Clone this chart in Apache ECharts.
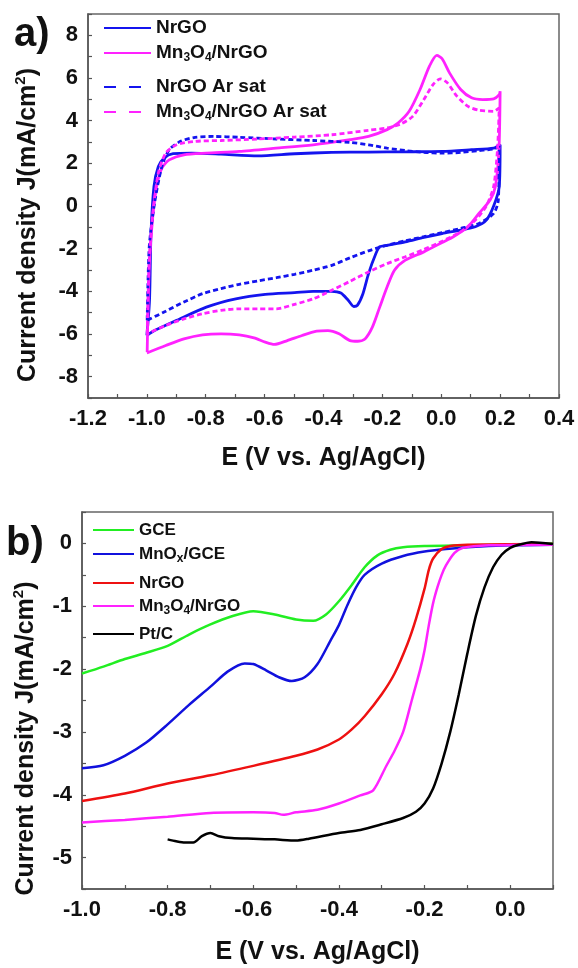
<!DOCTYPE html>
<html>
<head>
<meta charset="utf-8">
<script src="https://cdn.jsdelivr.net/npm/echarts@6/dist/echarts.min.js"></script>
<style>
  html, body { margin: 0; padding: 0; background: #fff; }
  #chart { width: 578px; height: 968px; }
</style>
</head>
<body>
<div id="chart"></div>
<script>
const FONT = 'Liberation Sans, Arial, sans-serif'

// panel a) cyclic voltammograms, [E (V), J (mA/cm2)], loop order as recorded
const cvNrgo = [
  [-1.0, -6.07], [-0.991, -4.42], [-0.986, -1.29], [-0.976, 0.91], [-0.961, 1.85], [-0.942, 2.24],
  [-0.911, 2.45], [-0.848, 2.48], [-0.748, 2.43], [-0.623, 2.35], [-0.498, 2.45], [-0.372, 2.51],
  [-0.247, 2.53], [-0.122, 2.54], [0.003, 2.56], [0.103, 2.64], [0.178, 2.71], [0.2, 2.87],
  [0.197, 0.91], [0.178, 0], [0.153, -0.66], [0.116, -0.97], [0.066, -1.13], [0.003, -1.29],
  [-0.059, -1.47], [-0.122, -1.68], [-0.184, -1.84], [-0.209, -1.91], [-0.222, -2.23], [-0.247, -3.17],
  [-0.266, -4.11], [-0.285, -4.66], [-0.297, -4.71], [-0.316, -4.42], [-0.341, -4.08], [-0.372, -4.0],
  [-0.435, -4.0], [-0.498, -4.06], [-0.598, -4.14], [-0.698, -4.35], [-0.798, -4.74], [-0.899, -5.36],
  [-0.974, -5.84], [-1.0, -6.07]
]
const cvNrgoAr = [
  [-0.999, -5.36], [-0.992, -1.91], [-0.974, 0.13], [-0.949, 1.85], [-0.924, 2.64], [-0.886, 3.03],
  [-0.836, 3.22], [-0.773, 3.26], [-0.686, 3.22], [-0.56, 3.14], [-0.435, 3.07], [-0.31, 2.98],
  [-0.247, 2.87], [-0.184, 2.71], [-0.122, 2.6], [-0.059, 2.51], [0.003, 2.48], [0.066, 2.51],
  [0.128, 2.6], [0.178, 2.67], [0.197, 2.79], [0.194, 0.28], [0.178, -0.35], [0.128, -0.82],
  [0.066, -1.05], [0.003, -1.25], [-0.059, -1.44], [-0.122, -1.63], [-0.184, -1.84], [-0.247, -2.1],
  [-0.31, -2.43], [-0.372, -2.78], [-0.435, -3.01], [-0.498, -3.2], [-0.56, -3.36], [-0.623, -3.51],
  [-0.686, -3.67], [-0.748, -3.87], [-0.811, -4.11], [-0.874, -4.5], [-0.936, -4.93], [-0.999, -5.36]
]
const cvMnNrgo = [
  [-0.999, -6.85], [-0.992, -2.85], [-0.98, -0.5], [-0.967, 0.91], [-0.949, 1.77], [-0.924, 2.16],
  [-0.874, 2.4], [-0.799, 2.48], [-0.686, 2.56], [-0.561, 2.71], [-0.435, 2.87], [-0.31, 3.11],
  [-0.247, 3.26], [-0.184, 3.58], [-0.147, 3.89], [-0.109, 4.44], [-0.072, 5.46], [-0.04, 6.56],
  [-0.015, 7.06], [0.003, 6.9], [0.028, 6.24], [0.066, 5.46], [0.103, 5.07], [0.141, 4.99],
  [0.178, 5.02], [0.197, 5.22], [0.2, 5.38], [0.196, 2.64], [0.184, 0.91], [0.166, 0.28],
  [0.128, -0.35], [0.091, -0.97], [0.041, -1.44], [0.003, -1.71], [-0.059, -2.15], [-0.122, -2.54],
  [-0.159, -3.01], [-0.184, -3.8], [-0.209, -4.74], [-0.234, -5.68], [-0.259, -6.23], [-0.284, -6.34],
  [-0.31, -6.31], [-0.347, -5.99], [-0.385, -5.84], [-0.423, -5.87], [-0.473, -6.07], [-0.523, -6.31],
  [-0.567, -6.49], [-0.598, -6.38], [-0.636, -6.18], [-0.686, -6.04], [-0.748, -5.99], [-0.811, -6.04],
  [-0.874, -6.23], [-0.936, -6.54], [-1.0, -6.89]
]
const cvMnNrgoAr = [
  [-0.999, -5.99], [-0.992, -2.54], [-0.98, -0.35], [-0.961, 1.54], [-0.936, 2.48], [-0.899, 2.87],
  [-0.836, 3.03], [-0.748, 3.07], [-0.623, 3.14], [-0.498, 3.23], [-0.372, 3.34], [-0.247, 3.55],
  [-0.184, 3.66], [-0.135, 3.86], [-0.097, 4.2], [-0.059, 4.99], [-0.028, 5.69], [-0.003, 5.96],
  [0.021, 5.77], [0.053, 5.15], [0.091, 4.67], [0.128, 4.49], [0.178, 4.44], [0.197, 4.6],
  [0.191, 2.64], [0.178, 0.91], [0.153, 0], [0.116, -0.66], [0.066, -1.21], [0.003, -1.65],
  [-0.059, -2.04], [-0.122, -2.38], [-0.184, -2.7], [-0.247, -3.09], [-0.31, -3.53], [-0.372, -3.95],
  [-0.435, -4.35], [-0.498, -4.61], [-0.56, -4.82], [-0.623, -4.82], [-0.686, -4.82], [-0.748, -4.89],
  [-0.811, -5.05], [-0.874, -5.29], [-0.936, -5.6], [-0.999, -5.99]
]

// panel b) polarisation curves
const lsvGce = [
  [-1.0, -2.07], [-0.95, -1.96], [-0.9, -1.84], [-0.85, -1.74], [-0.8, -1.63], [-0.75, -1.45],
  [-0.7, -1.29], [-0.65, -1.16], [-0.6, -1.08], [-0.55, -1.13], [-0.5, -1.21], [-0.46, -1.23],
  [-0.43, -1.13], [-0.4, -0.92], [-0.37, -0.66], [-0.34, -0.38], [-0.31, -0.19], [-0.28, -0.1],
  [-0.25, -0.06], [-0.2, -0.04], [-0.1, -0.03], [0.0, -0.02], [0.1, 0.0]
]
const lsvMnox = [
  [-1.0, -3.58], [-0.95, -3.53], [-0.9, -3.38], [-0.85, -3.17], [-0.8, -2.88], [-0.75, -2.57],
  [-0.7, -2.28], [-0.66, -2.04], [-0.62, -1.91], [-0.6, -1.92], [-0.57, -2.02], [-0.54, -2.13],
  [-0.51, -2.19], [-0.48, -2.13], [-0.45, -1.92], [-0.42, -1.55], [-0.4, -1.3], [-0.38, -0.98],
  [-0.36, -0.7], [-0.34, -0.5], [-0.3, -0.32], [-0.25, -0.2], [-0.2, -0.13], [-0.15, -0.09],
  [-0.1, -0.06], [0.0, -0.03], [0.1, -0.02]
]
const lsvNrgo = [
  [-1.0, -4.1], [-0.9, -3.98], [-0.8, -3.82], [-0.7, -3.69], [-0.6, -3.54], [-0.5, -3.38],
  [-0.45, -3.28], [-0.4, -3.12], [-0.37, -2.96], [-0.34, -2.75], [-0.3, -2.4], [-0.27, -2.07],
  [-0.24, -1.6], [-0.22, -1.2], [-0.2, -0.72], [-0.19, -0.42], [-0.18, -0.24], [-0.16, -0.09],
  [-0.14, -0.04], [-0.1, -0.02], [0.1, -0.01]
]
const lsvMnNrgo = [
  [-1.0, -4.44], [-0.9, -4.4], [-0.8, -4.35], [-0.7, -4.29], [-0.6, -4.28], [-0.55, -4.29],
  [-0.53, -4.32], [-0.5, -4.28], [-0.45, -4.24], [-0.4, -4.14], [-0.35, -4.01], [-0.32, -3.93],
  [-0.29, -3.55], [-0.27, -3.3], [-0.25, -3.0], [-0.23, -2.5], [-0.21, -2.0], [-0.2, -1.7],
  [-0.19, -1.3], [-0.18, -0.95], [-0.17, -0.7], [-0.16, -0.5], [-0.15, -0.35], [-0.13, -0.15],
  [-0.11, -0.07], [-0.05, -0.03], [0.1, -0.02]
]
const lsvPtc = [
  [-0.8, -4.71], [-0.78, -4.74], [-0.76, -4.76], [-0.74, -4.76], [-0.72, -4.66], [-0.7, -4.61],
  [-0.68, -4.66], [-0.65, -4.69], [-0.6, -4.7], [-0.55, -4.71], [-0.5, -4.73], [-0.47, -4.7],
  [-0.4, -4.61], [-0.35, -4.56], [-0.3, -4.47], [-0.25, -4.37], [-0.22, -4.27], [-0.2, -4.14],
  [-0.18, -3.9], [-0.16, -3.5], [-0.14, -3.0], [-0.12, -2.4], [-0.1, -1.75], [-0.08, -1.15],
  [-0.06, -0.7], [-0.04, -0.38], [-0.02, -0.18], [0.0, -0.07], [0.02, -0.02], [0.05, 0.02], [0.1, -0.01]
]

const subRich = {
  sub: { fontSize: 12, fontWeight: 'bold', fontFamily: FONT, color: '#111', verticalAlign: 'bottom', lineHeight: 12 },
  sup: { fontSize: 15, fontWeight: 'bold', fontFamily: FONT, color: '#111', verticalAlign: 'top', lineHeight: 16 },
}
const fmtName = (name) =>
  name.replace(/^b:/, '').replace('Mn3O4', 'Mn{sub|3}O{sub|4}').replace('MnOx', 'MnO{sub|x}')

const tenths = (v) => {
  const k = Math.round(v * 10)
  return k % 2 === 0 ? (k / 10).toFixed(1) : ''
}

const axisBase = (labelSize) => ({
  axisLine: { show: true, onZero: false, lineStyle: { color: '#555', width: 1.5 } },
  axisTick: { show: true, inside: true, length: 4, lineStyle: { color: '#555', width: 1.2 } },
  splitLine: { show: false },
  axisLabel: { fontSize: labelSize, fontWeight: 'bold', fontFamily: FONT, color: '#111', margin: 10 },
  nameLocation: 'middle',
  nameTextStyle: { fontSize: 25, fontWeight: 'bold', fontFamily: FONT, color: '#111', lineHeight: 30, rich: subRich },
})

const legendRow = (name, left, top, fontSize, itemWidth, dashed) => ({
  data: [name],
  left,
  top,
  padding: 0,
  orient: 'vertical',
  itemWidth,
  itemHeight: 14,
  formatter: fmtName,
  itemStyle: { opacity: 0 },
  lineStyle: dashed ? { type: [12, 13] } : {},
  textStyle: { fontSize, fontWeight: 'bold', fontFamily: FONT, color: '#111', lineHeight: 22, rich: subRich },
})

const line = (name, data, color, xi, width, dashed) => ({
  name,
  type: 'line',
  xAxisIndex: xi,
  yAxisIndex: xi,
  data,
  symbol: 'none',
  smooth: 0.25,
  lineStyle: { color, width, type: dashed ? [5, 3] : 'solid' },
  itemStyle: { color },
})

const BLUE = '#1414ee'
const PINK = '#ff22ff'

const chart = echarts.init(document.getElementById('chart'))
chart.setOption({
  animation: false,
  backgroundColor: '#fff',
  title: [
    { text: 'a)', left: 14, top: 15, padding: 0, textStyle: { fontSize: 40, fontWeight: 'bold', fontFamily: FONT, color: '#111' } },
    { text: 'b)', left: 6, top: 524, padding: 0, textStyle: { fontSize: 40, fontWeight: 'bold', fontFamily: FONT, color: '#111' } },
  ],
  grid: [
    { left: 88, top: 14, width: 471, height: 384, show: true, borderColor: '#666', borderWidth: 1.5 },
    { left: 82, top: 512, width: 471, height: 383, show: true, borderColor: '#666', borderWidth: 1.5 },
  ],
  legend: [
    legendRow('NrGO', 103, 17, 19, 47, false),
    legendRow('Mn3O4/NrGO', 103, 42, 19, 47, false),
    legendRow('NrGO Ar sat', 103, 76, 19, 47, true),
    legendRow('Mn3O4/NrGO Ar sat', 103, 101, 19, 47, true),
    legendRow('b:GCE', 92, 519, 17, 41, false),
    legendRow('b:MnOx/GCE', 92, 543, 17, 41, false),
    legendRow('b:NrGO', 92, 572, 17, 41, false),
    legendRow('b:Mn3O4/NrGO', 92, 595, 17, 41, false),
    legendRow('b:Pt/C', 92, 623, 17, 41, false),
  ],
  xAxis: [
    Object.assign(axisBase(22), {
      gridIndex: 0, type: 'value', min: -1.2, max: 0.4, interval: 0.1,
      name: 'E (V vs. Ag/AgCl)', nameGap: 45,
    }),
    Object.assign(axisBase(22), {
      gridIndex: 1, type: 'value', min: -1.0, max: 0.1, interval: 0.1,
      name: 'E (V vs. Ag/AgCl)', nameGap: 48,
    }),
  ],
  yAxis: [
    Object.assign(axisBase(22), {
      gridIndex: 0, type: 'value', min: -9, max: 9, interval: 1,
      name: 'Current density J(mA/cm{sup|2})', nameGap: 45,
    }),
    Object.assign(axisBase(22), {
      gridIndex: 1, type: 'value', min: -5.5, max: 0.5, interval: 0.5,
      name: 'Current density J(mA/cm{sup|2})', nameGap: 41,
    }),
  ],
  series: [
    line('NrGO', cvNrgo, BLUE, 0, 2.8, false),
    line('Mn3O4/NrGO', cvMnNrgo, PINK, 0, 2.8, false),
    line('NrGO Ar sat', cvNrgoAr, BLUE, 0, 2.8, true),
    line('Mn3O4/NrGO Ar sat', cvMnNrgoAr, PINK, 0, 2.8, true),
    line('b:GCE', lsvGce, '#22ee22', 1, 2.5, false),
    line('b:MnOx/GCE', lsvMnox, '#1111dd', 1, 2.5, false),
    line('b:NrGO', lsvNrgo, '#ee1111', 1, 2.5, false),
    line('b:Mn3O4/NrGO', lsvMnNrgo, '#ff22ff', 1, 2.5, false),
    line('b:Pt/C', lsvPtc, '#000000', 1, 2.5, false),
  ],
})

// label formatters (majors only) and title offsets along the axis
chart.setOption({
  xAxis: [
    { axisLabel: { formatter: tenths } },
    { axisLabel: { formatter: tenths } },
  ],
  yAxis: [
    {
      axisLabel: { formatter: (v) => (Math.round(v) % 2 === 0 ? String(Math.round(v)) : '') },
      nameTextStyle: { padding: [0, 38, 0, 0] },
    },
    {
      axisLabel: { formatter: (v) => (Number.isInteger(v) ? String(v) : '') },
      nameTextStyle: { padding: [0, 76, 0, 0] },
    },
  ],
})
</script>
</body>
</html>
